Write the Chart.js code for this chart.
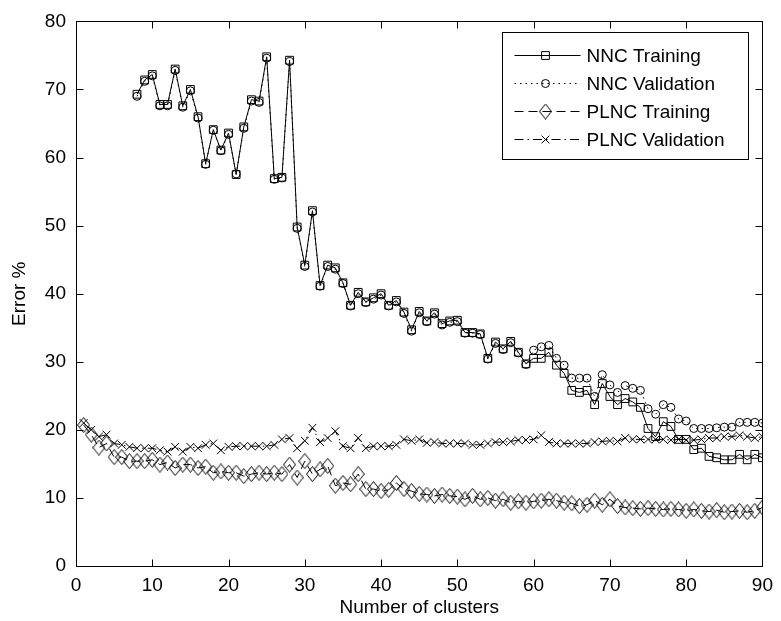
<!DOCTYPE html>
<html>
<head>
<meta charset="utf-8">
<script src="https://cdn.jsdelivr.net/npm/chart.js@4.4.1/dist/chart.umd.min.js"></script>
<style>
html,body{margin:0;padding:0;background:#fff;}
#wrap{width:781px;height:621px;position:relative;}
</style>
</head>
<body>
<div id="wrap"><canvas id="c" width="781" height="621"></canvas></div>
<script>
// ---- data (x = number of clusters) ----
const clusters = [1,2,3,4,5,6,7,8,9,10,11,12,13,14,15,16,17,18,19,20,21,22,23,24,25,26,27,28,29,30,
  31,32,33,34,35,36,37,38,39,40,41,42,43,44,45,46,47,48,49,50,51,52,53,54,55,56,57,58,59,60,
  61,62,63,64,65,66,67,68,69,70,71,72,73,74,75,76,77,78,79,80,81,82,83,84,85,86,87,88,89,90];

const nncTraining = [null,null,null,null,null,null,null,69.3,71.4,72.2,
  67.8,67.8,73.0,67.6,70.0,66.0,59.1,64.1,61.1,63.6,
  57.5,64.5,68.5,68.3,74.8,56.9,57.1,74.3,49.8,44.2,
  52.2,41.2,44.2,43.8,41.6,38.3,40.2,38.8,39.4,40.0,
  38.3,39.0,37.3,34.7,37.4,36.0,37.2,35.6,36.0,36.1,
  34.3,34.3,34.1,30.5,32.9,31.9,33.0,31.4,29.7,30.5,
  30.5,31.4,29.5,28.3,25.8,25.5,25.8,23.7,26.8,24.9,
  23.7,24.6,24.1,23.3,20.2,19.0,21.2,20.5,18.6,18.6,
  17.1,17.3,16.1,15.9,15.6,15.6,16.4,15.6,16.4,15.9];

const nncValidation = [null,null,null,null,null,null,null,69.0,71.2,72.0,
  67.6,67.6,72.8,67.4,69.8,65.8,59.0,64.0,61.0,63.4,
  57.6,64.3,68.3,68.1,74.6,56.8,57.0,74.1,49.6,44.0,
  52.0,41.1,44.0,43.6,41.5,38.2,40.0,38.7,39.2,39.8,
  38.2,38.8,37.1,34.5,37.2,35.9,37.0,35.4,35.8,35.9,
  34.2,34.2,34.0,30.4,32.7,31.8,32.8,31.3,29.6,31.7,
  32.2,32.4,30.5,29.5,27.6,27.6,27.6,24.9,28.1,26.6,
  25.5,26.5,26.1,25.8,23.1,22.3,23.7,23.3,21.6,21.3,
  20.2,20.2,20.2,20.3,20.4,20.4,21.1,21.1,21.1,21.0];

const plncTraining = [20.7,19.3,17.4,18.0,16.0,16.0,15.4,15.4,15.4,15.6,
  14.9,15.2,14.4,14.9,14.9,14.4,14.6,13.7,13.9,13.7,
  13.7,13.2,13.5,13.7,13.5,13.7,13.5,14.9,13.0,15.4,
  13.5,14.2,14.7,11.8,12.2,12.0,13.5,11.3,11.3,11.0,
  11.2,12.2,11.3,11.0,10.6,10.5,10.3,10.5,10.3,10.2,
  9.8,10.3,9.8,10.0,9.6,9.8,9.3,9.5,9.3,9.5,
  9.6,9.8,9.6,9.3,9.2,8.8,9.0,9.6,9.0,9.8,
  8.8,8.6,8.5,8.4,8.5,8.4,8.3,8.4,8.3,8.1,
  8.3,8.1,8.0,8.2,7.9,8.0,8.1,7.9,8.1,8.6];

const plncValidation = [21.0,20.0,19.0,19.3,18.0,17.8,17.5,17.3,17.3,17.3,
  17.0,16.8,17.5,16.8,17.5,17.3,17.8,18.0,17.0,17.5,
  17.6,17.6,17.6,17.6,17.6,17.8,18.6,18.8,17.3,18.4,
  20.3,18.2,18.8,19.8,17.6,17.3,18.8,17.3,17.6,17.6,
  17.6,17.8,18.6,18.4,18.6,18.1,18.2,18.0,18.0,18.0,
  18.0,17.8,17.8,18.0,18.2,18.2,18.3,18.5,18.5,18.6,
  19.2,18.2,18.0,18.0,18.0,18.0,18.0,18.2,18.3,18.4,
  18.3,18.8,18.6,18.6,18.6,18.6,18.6,18.5,18.6,18.5,
  18.5,18.6,18.8,18.8,19.0,19.0,19.2,19.0,18.8,19.0];

const seriesLabels = ['NNC Training','NNC Validation','PLNC Training','PLNC Validation'];
const xTicks = [0,10,20,30,40,50,60,70,80,90];
const yTicks = [0,10,20,30,40,50,60,70,80];
const xTitle = 'Number of clusters';
const yTitle = 'Error %';

// ---- styling ----
const FONT = "'Liberation Sans', Arial, sans-serif";
function makeDiamond(w, h) {
  const c = document.createElement('canvas');
  c.width = w + 2; c.height = h + 2;
  const g = c.getContext('2d');
  g.strokeStyle = '#000'; g.lineWidth = 1;
  g.beginPath();
  g.moveTo(c.width / 2, 0.5);
  g.lineTo(c.width - 0.5, c.height / 2);
  g.lineTo(c.width / 2, c.height - 0.5);
  g.lineTo(0.5, c.height / 2);
  g.closePath();
  g.stroke();
  return c;
}
const diamond = makeDiamond(11, 14);

function toPts(arr) { return clusters.map((x, i) => ({ x: x, y: arr[i] })); }

const styles = [
  { dash: [], pointStyle: 'rect', radius: 5.5 },
  { dash: [1.5, 4], pointStyle: 'circle', radius: 4 },
  { dash: [9, 5], pointStyle: diamond, radius: 6 },
  { dash: [9, 4, 1.5, 4], pointStyle: 'crossRot', radius: 5.5 }
];
const seriesData = [nncTraining, nncValidation, plncTraining, plncValidation];

const datasets = seriesData.map((d, i) => ({
  label: seriesLabels[i],
  data: toPts(d),
  borderColor: '#000',
  backgroundColor: 'rgba(0,0,0,0)',
  borderWidth: 1,
  borderDash: styles[i].dash,
  pointStyle: styles[i].pointStyle,
  pointRadius: styles[i].radius,
  pointBorderColor: '#000',
  pointBackgroundColor: 'rgba(0,0,0,0)',
  pointBorderWidth: 1,
  tension: 0,
  spanGaps: false
}));

// frame with inward ticks (MATLAB style)
const framePlugin = {
  id: 'frame',
  afterDatasetsDraw(chart) {
    const { ctx, chartArea: a, scales } = chart;
    const L = Math.round(a.left) + 0.5, R = Math.round(a.right) + 0.5;
    const T = Math.round(a.top) + 0.5, B = Math.round(a.bottom) + 0.5;
    ctx.save();
    ctx.strokeStyle = '#000';
    ctx.lineWidth = 1;
    ctx.setLineDash([]);
    ctx.strokeRect(L, T, R - L, B - T);
    const tl = 7;
    ctx.beginPath();
    xTicks.forEach(v => {
      const px = Math.round(scales.x.getPixelForValue(v)) + 0.5;
      ctx.moveTo(px, B); ctx.lineTo(px, B - tl);
      ctx.moveTo(px, T); ctx.lineTo(px, T + tl);
    });
    yTicks.forEach(v => {
      const py = Math.round(scales.y.getPixelForValue(v)) + 0.5;
      ctx.moveTo(L, py); ctx.lineTo(L + tl, py);
      ctx.moveTo(R, py); ctx.lineTo(R - tl, py);
    });
    ctx.stroke();
    ctx.restore();
  }
};

function drawMarker(ctx, style, r, x, y) {
  ctx.beginPath();
  if (style === 'rect') {
    const s = Math.SQRT1_2 * r;
    ctx.rect(x - s, y - s, 2 * s, 2 * s);
    ctx.stroke();
  } else if (style === 'circle') {
    ctx.arc(x, y, r, 0, Math.PI * 2);
    ctx.stroke();
  } else if (style === 'crossRot') {
    const s = Math.SQRT1_2 * r;
    ctx.moveTo(x - s, y - s); ctx.lineTo(x + s, y + s);
    ctx.moveTo(x + s, y - s); ctx.lineTo(x - s, y + s);
    ctx.stroke();
  } else {
    ctx.drawImage(style, x - style.width / 2, y - style.height / 2);
  }
}

const legendPlugin = {
  id: 'matLegend',
  afterDraw(chart) {
    const { ctx, chartArea: a } = chart;
    const bx = Math.round(a.right - 14) + 0.5, by = Math.round(a.top + 11) + 0.5;
    const bw = 246, bh = 127;
    ctx.save();
    ctx.fillStyle = '#fff';
    ctx.fillRect(bx - bw, by, bw, bh);
    ctx.strokeStyle = '#000';
    ctx.lineWidth = 1;
    ctx.setLineDash([]);
    ctx.strokeRect(bx - bw, by, bw, bh);
    const left = bx - bw;
    chart.data.datasets.forEach((ds, i) => {
      const y = Math.round(by + 22 + i * 28.3) + 0.5;
      ctx.setLineDash(ds.borderDash || []);
      ctx.beginPath();
      ctx.moveTo(left + 12, y); ctx.lineTo(left + 78, y);
      ctx.stroke();
      ctx.setLineDash([]);
      drawMarker(ctx, ds.pointStyle, ds.pointRadius, left + 43, y);
      ctx.fillStyle = '#000';
      ctx.font = '19px ' + FONT;
      ctx.textAlign = 'left';
      ctx.textBaseline = 'middle';
      ctx.fillText(ds.label, left + 84, y + 1);
    });
    ctx.restore();
  }
};

const tickFont = { family: FONT, size: 19 };

new Chart(document.getElementById('c'), {
  type: 'line',
  data: { datasets: datasets },
  plugins: [framePlugin, legendPlugin],
  options: {
    responsive: false,
    animation: false,
    layout: { padding: { top: 17, right: 13, left: 0, bottom: 0 } },
    plugins: { legend: { display: false }, tooltip: { enabled: false } },
    scales: {
      x: {
        type: 'linear', min: 0, max: 90,
        afterBuildTicks: s => { s.ticks = xTicks.map(v => ({ value: v })); },
        ticks: { color: '#000', font: tickFont, padding: 8, maxRotation: 0, autoSkip: false },
        grid: { display: false, drawTicks: false },
        border: { display: false },
        title: { display: true, text: xTitle, color: '#000', font: tickFont, padding: { top: 0, bottom: 2 } },
        afterFit: s => { s.height = 55; }
      },
      y: {
        type: 'linear', min: 0, max: 80,
        afterBuildTicks: s => { s.ticks = yTicks.map(v => ({ value: v })); },
        ticks: { color: '#000', font: tickFont, padding: 10, autoSkip: false },
        grid: { display: false, drawTicks: false },
        border: { display: false },
        title: { display: true, text: yTitle, color: '#000', font: tickFont, padding: { top: 8, bottom: 0 } },
        afterFit: s => { s.width = 76; }
      }
    }
  }
});
</script>
</body>
</html>
